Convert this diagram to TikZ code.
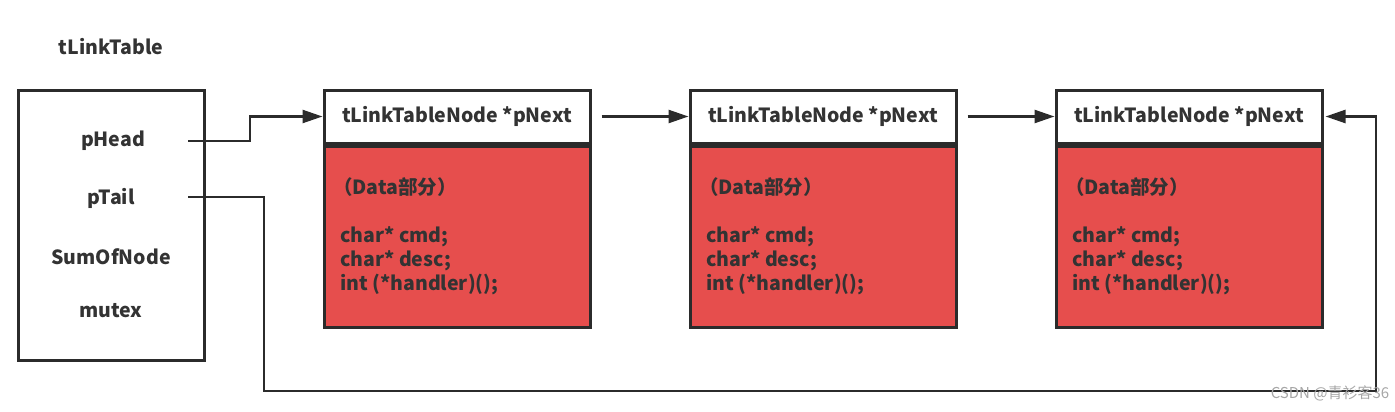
\documentclass[tikz,border=0pt]{standalone}
\usepackage{fontspec}
\setmainfont{Noto Sans CJK SC}
\usetikzlibrary{arrows.meta}
\definecolor{ink}{HTML}{2B2B2B}
\definecolor{txt}{HTML}{333333}
\definecolor{redfill}{HTML}{E64E4D}
\tikzset{
  box/.style={draw=ink, line width=3pt, rectangle, inner sep=0pt},
  hdr/.style={box, fill=white, minimum width=266pt, minimum height=53pt, text=txt,
    font=\fontsize{19.5}{23}\selectfont\bfseries},
  body/.style={box, fill=redfill, minimum width=266pt, minimum height=181pt},
  lbl/.style={text=txt, font=\fontsize{19.5}{23}\selectfont\bfseries, inner sep=0pt},
  arr/.style={draw=ink, line width=2.5pt, -{Triangle[length=20pt,width=13pt]}},
}
\begin{document}
\begin{tikzpicture}[x=1pt,y=-1pt]
\useasboundingbox (0,0) rectangle (1395,412);
% left structure
\node[lbl] (title) at (111,47) {tLinkTable};
\node[box, minimum width=186pt, minimum height=270pt] (lt) at (111,225) {};
\node[lbl] (phead) at (113,141) {pHead};
\node[lbl] (ptail) at (111,198) {pTail};
\node[lbl] (sum) at (111,257) {SumOfNode};
\node[lbl] (mutex) at (111,311) {mutex};
\coordinate (phs) at (188,141);
\coordinate (pts) at (188,197);
% nodes
\foreach \i/\x in {1/457,2/823,3/1189}{
  \node[hdr] (h\i) at (\x,116.5) {tLinkTableNode *pNext};
  \node[body, anchor=north] (b\i) at (h\i.south) {};
  \node[lbl, anchor=west] (d\i) at (\x-124,187) {（Data部分）};
  \node[lbl, anchor=north west, align=left, font=\fontsize{19.5}{24}\selectfont\bfseries] (c\i) at (\x-117,226)
    {char* cmd;\\char* desc;\\int (*handler)();};
}
% connectors
\draw[arr] (phs) -- (250,141) |- (h1.west);
\draw[arr] ([xshift=10pt]h1.east) -- (h2.west);
\draw[arr] ([xshift=10pt]h2.east) -- (h3.west);
\coordinate (c1) at (264,197);
\coordinate (c2) at (264,391);
\coordinate (c3) at (1376,391);
\draw[arr] (pts) -- (c1) -- (c2) -- (c3) |- ([xshift=2pt]h3.east);
% watermark
\node[text=black!35, font=\fontsize{15}{18}\selectfont, inner sep=0pt] (wm) at (1330,393) {CSDN @青衫客36};
\end{tikzpicture}
\end{document}
